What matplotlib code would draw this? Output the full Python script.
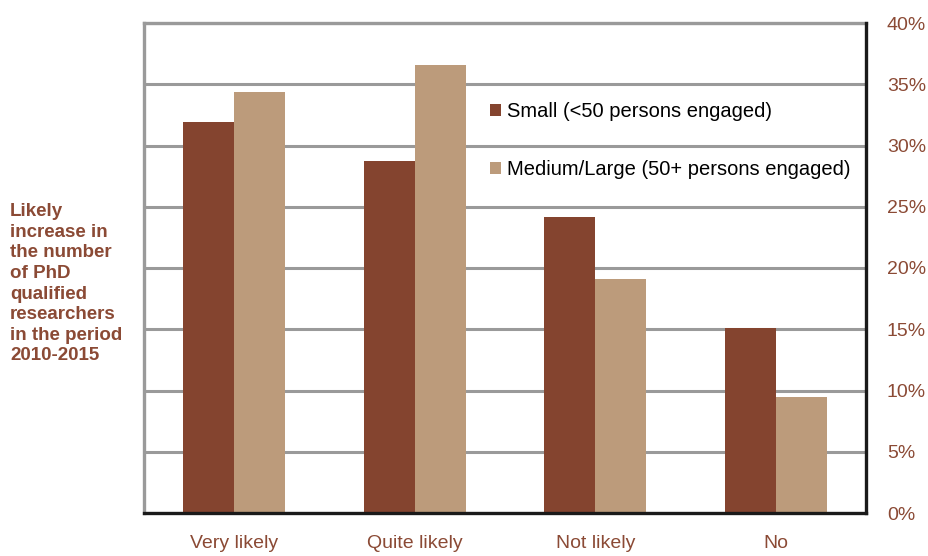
import matplotlib
matplotlib.use("Agg")
import matplotlib.pyplot as plt
from matplotlib.patches import Patch
from matplotlib.ticker import FuncFormatter
import numpy as np

categories = ["Very likely", "Quite likely", "Not likely", "No"]
small = [31.9, 28.7, 24.2, 15.1]
medium_large = [34.4, 36.6, 19.1, 9.5]
series_labels = ["Small (<50 persons engaged)", "Medium/Large (50+ persons engaged)"]
yticks = [0, 5, 10, 15, 20, 25, 30, 35, 40]
side_label = "Likely\nincrease in\nthe number\nof PhD\nqualified\nresearchers\nin the period\n2010-2015"

C_SMALL = "#84442F"
C_MED = "#BC9B7B"
C_TEXT = "#8B4A35"
C_GRID = "#9a9a9a"

sans = ["Liberation Sans", "DejaVu Sans"]

fig = plt.figure(figsize=(9.29, 5.56), dpi=100)
ax = fig.add_axes([144/929, 43/556, 722/929, 490/556])

x = np.arange(len(categories))
w = 0.283
ax.bar(x - w/2, small, w, color=C_SMALL, zorder=3)
ax.bar(x + w/2, medium_large, w, color=C_MED, zorder=3)

ax.set_xlim(-0.5, len(categories) - 0.5)
ax.set_ylim(0, 40)
ax.set_yticks(yticks)
ax.yaxis.tick_right()
ax.yaxis.set_major_formatter(FuncFormatter(lambda v, p: f"{int(v)}%"))
ax.tick_params(axis="y", length=0, pad=15, labelsize=14, labelcolor=C_TEXT)
for lab in ax.get_yticklabels():
    lab.set_fontfamily(sans)
ax.set_xticks(x)
ax.set_xticklabels(categories, fontsize=14, color=C_TEXT, fontfamily=sans)
ax.tick_params(axis="x", length=0, pad=16)

ax.yaxis.grid(True, color=C_GRID, linewidth=2.2, zorder=0)
ax.set_axisbelow(True)
for s in ["left", "top"]:
    ax.spines[s].set_color(C_GRID)
    ax.spines[s].set_linewidth(2.4)
for s in ["right", "bottom"]:
    ax.spines[s].set_color("#1a1a1a")
    ax.spines[s].set_linewidth(2.4)
    ax.spines[s].set_zorder(4)

handles = [Patch(facecolor=C_SMALL), Patch(facecolor=C_MED)]
leg = fig.legend(handles, series_labels, loc="upper left",
                 bbox_to_anchor=(490/929, 1 - 102/556), frameon=False,
                 handlelength=0.55, handleheight=0.55, handletextpad=0.3,
                 labelspacing=1.95, borderpad=0, borderaxespad=0,
                 prop={"family": sans, "size": 14.5})

fig.text(10/929, 1 - 203/556, side_label, ha="left", va="top",
         fontsize=13.5, fontweight="bold", color=C_TEXT,
         fontfamily=sans, linespacing=1.28)

fig.savefig("out.png", dpi=100)
